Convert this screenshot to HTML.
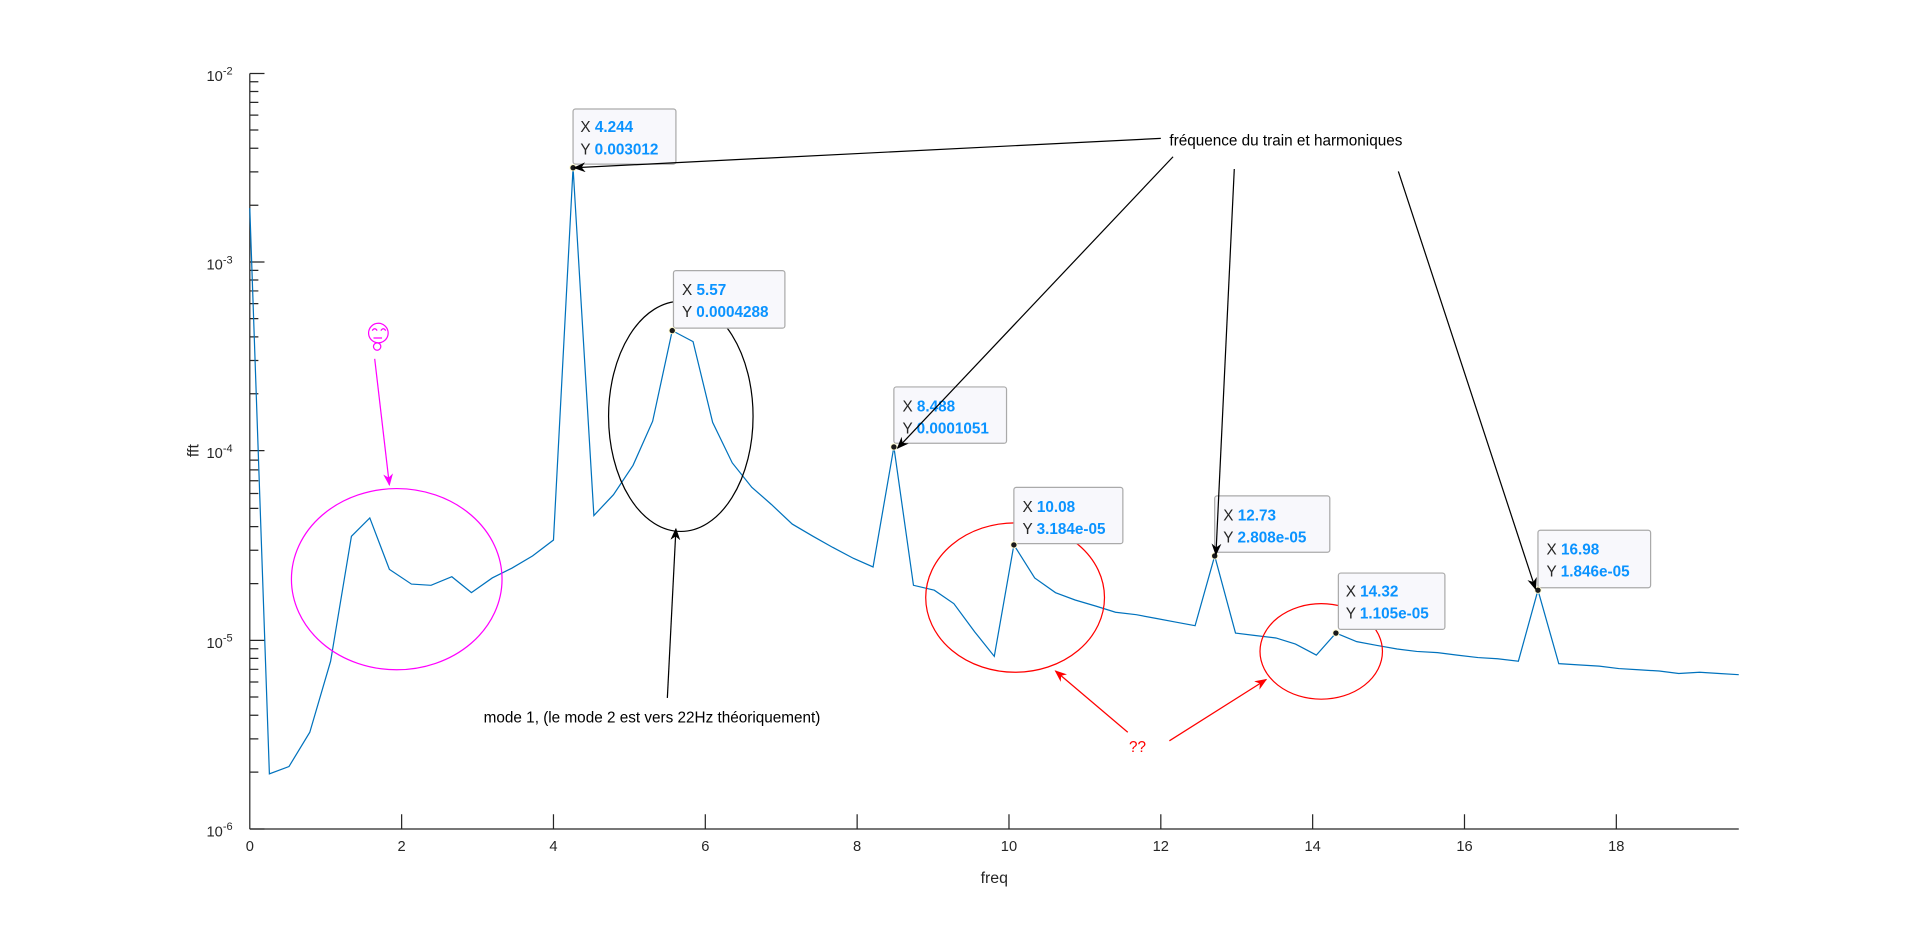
<!DOCTYPE html>
<html><head><meta charset="utf-8"><style>html,body{margin:0;padding:0;background:#fff;overflow:hidden}svg{display:block}text{font-family:"Liberation Sans",Arial,sans-serif}</style></head><body>
<svg width="1920" height="936" viewBox="0 0 1568 764.4" xmlns="http://www.w3.org/2000/svg">
<defs>
<marker id="ak" markerWidth="10" markerHeight="8" refX="9" refY="4" orient="auto" markerUnits="userSpaceOnUse"><path d="M0,0 L10,4 L0,8 L3,4z" fill="#000"/></marker>
<marker id="ar" markerWidth="10" markerHeight="8" refX="9" refY="4" orient="auto" markerUnits="userSpaceOnUse"><path d="M0,0 L10,4 L0,8 L3,4z" fill="#f00"/></marker>
<marker id="am" markerWidth="10" markerHeight="8" refX="9" refY="4" orient="auto" markerUnits="userSpaceOnUse"><path d="M0,0 L10,4 L0,8 L3,4z" fill="#f0f"/></marker>
</defs>
<g stroke="#262626" stroke-width="1" fill="none">
<line x1="204" y1="60" x2="204" y2="677"/>
<line x1="204" y1="677" x2="1420" y2="677"/>
<path d="M328,677v-12M452,677v-12M576,677v-12M700,677v-12M824,677v-12M948,677v-12M1072,677v-12M1196,677v-12M1320,677v-12"/>
<path d="M204,60h12M204,214h12M204,368h12M204,523h12M204,677h12"/>
<path d="M204,167.6h7M204,140.4h7M204,121.1h7M204,106.2h7M204,94h7M204,83.6h7M204,74.7h7M204,66.8h7
M204,321.6h7M204,294.4h7M204,275.1h7M204,260.2h7M204,248h7M204,237.6h7M204,228.7h7M204,220.8h7
M204,476.6h7M204,449.4h7M204,430.1h7M204,415.2h7M204,403h7M204,392.6h7M204,383.7h7M204,375.8h7
M204,630.6h7M204,603.4h7M204,584.1h7M204,569.2h7M204,557h7M204,546.6h7M204,537.7h7M204,529.8h7"/>
</g>
<g font-size="12" fill="#262626" text-anchor="middle">
<text x="204" y="695">0</text><text x="328" y="695">2</text><text x="452" y="695">4</text><text x="576" y="695">6</text><text x="700" y="695">8</text><text x="824" y="695">10</text><text x="948" y="695">12</text><text x="1072" y="695">14</text><text x="1196" y="695">16</text><text x="1320" y="695">18</text>
<text x="812" y="721" font-size="13">freq</text>
<text transform="translate(162,368) rotate(-90)" font-size="13">fft</text>
</g>
<g font-size="12" fill="#262626" text-anchor="end">
<text x="190" y="66">10<tspan dy="-5" font-size="9">-2</tspan></text>
<text x="190" y="220">10<tspan dy="-5" font-size="9">-3</tspan></text>
<text x="190" y="374">10<tspan dy="-5" font-size="9">-4</tspan></text>
<text x="190" y="529">10<tspan dy="-5" font-size="9">-5</tspan></text>
<text x="190" y="683">10<tspan dy="-5" font-size="9">-6</tspan></text>
</g>
<polyline fill="none" stroke="#0072bd" stroke-width="1" points="204,170 220,632 236,626 253,598 270,540 287,438 302,423 318,465 336,477 352,478 369,471 385,484 402,472 418,464 435,454 452,441 468,137 485,421 501,404 517,380 533,344 549,270 566,279 582,345 598,378 614,398 630,412 647,428 664,438 680,447 697,456 713,463 730,365 746,478 763,482 779,493 796,516 812,536 828,445 845,472 862,484 878,490 895,495 911,500 928,502 944,505 960,508 976,511 992,454 1009,517 1025,519 1042,521 1058,526 1075,535 1091,517 1108,524 1124,527 1141,530 1157,532 1174,533 1190,535 1207,537 1223,538 1240,540 1256,482 1273,542 1289,543 1306,544 1322,546 1338,547 1355,548 1371,550 1388,549 1404,550 1420,551"/>
<g fill="none" stroke-width="1">
<ellipse cx="324" cy="473" rx="86" ry="74" stroke="#f0f"/>
<ellipse cx="556" cy="340" rx="59" ry="94" stroke="#000"/>
<ellipse cx="829" cy="488" rx="73" ry="61" stroke="#f00"/>
<ellipse cx="1079" cy="532" rx="50" ry="39" stroke="#f00"/>
</g>
<g font-size="12.5">
<g><rect x="468" y="89" width="84" height="45" rx="2" fill="#f8f8fc" stroke="#aaa"/><text x="474" y="108" fill="#262626">X <tspan fill="#0a93ff" font-weight="bold">4.244</tspan></text><text x="474" y="126" fill="#262626">Y <tspan fill="#0a93ff" font-weight="bold">0.003012</tspan></text></g>
<g><rect x="550" y="221" width="91" height="47" rx="2" fill="#f8f8fc" stroke="#aaa"/><text x="557" y="241" fill="#262626">X <tspan fill="#0a93ff" font-weight="bold">5.57</tspan></text><text x="557" y="259" fill="#262626">Y <tspan fill="#0a93ff" font-weight="bold">0.0004288</tspan></text></g>
<g><rect x="730" y="316" width="92" height="46" rx="2" fill="#f8f8fc" stroke="#aaa"/><text x="737" y="336" fill="#262626">X <tspan fill="#0a93ff" font-weight="bold">8.488</tspan></text><text x="737" y="354" fill="#262626">Y <tspan fill="#0a93ff" font-weight="bold">0.0001051</tspan></text></g>
<g><rect x="828" y="398" width="89" height="46" rx="2" fill="#f8f8fc" stroke="#aaa"/><text x="835" y="418" fill="#262626">X <tspan fill="#0a93ff" font-weight="bold">10.08</tspan></text><text x="835" y="436" fill="#262626">Y <tspan fill="#0a93ff" font-weight="bold">3.184e-05</tspan></text></g>
<g><rect x="992" y="405" width="94" height="46" rx="2" fill="#f8f8fc" stroke="#aaa"/><text x="999" y="425" fill="#262626">X <tspan fill="#0a93ff" font-weight="bold">12.73</tspan></text><text x="999" y="443" fill="#262626">Y <tspan fill="#0a93ff" font-weight="bold">2.808e-05</tspan></text></g>
<g><rect x="1093" y="468" width="87" height="46" rx="2" fill="#f8f8fc" stroke="#aaa"/><text x="1099" y="487" fill="#262626">X <tspan fill="#0a93ff" font-weight="bold">14.32</tspan></text><text x="1099" y="505" fill="#262626">Y <tspan fill="#0a93ff" font-weight="bold">1.105e-05</tspan></text></g>
<g><rect x="1256" y="433" width="92" height="47" rx="2" fill="#f8f8fc" stroke="#aaa"/><text x="1263" y="453" fill="#262626">X <tspan fill="#0a93ff" font-weight="bold">16.98</tspan></text><text x="1263" y="471" fill="#262626">Y <tspan fill="#0a93ff" font-weight="bold">1.846e-05</tspan></text></g>
</g>
<g fill="#1a1a1a" stroke="#fffbd0" stroke-width="0.8">
<circle cx="468" cy="137" r="2.6"/><circle cx="549" cy="270" r="2.6"/><circle cx="730" cy="365" r="2.6"/><circle cx="828" cy="445" r="2.6"/><circle cx="992" cy="454" r="2.6"/><circle cx="1091" cy="517" r="2.6"/><circle cx="1256" cy="482" r="2.6"/>
</g>
<g stroke="#000" stroke-width="1" marker-end="url(#ak)">
<line x1="948" y1="113" x2="469" y2="137"/>
<line x1="958" y1="128" x2="733" y2="366"/>
<line x1="1008" y1="138" x2="993" y2="453"/>
<line x1="1142" y1="140" x2="1254" y2="481"/>
<line x1="545" y1="570" x2="552" y2="432"/>
</g>
<g stroke="#f00" stroke-width="1" marker-end="url(#ar)">
<line x1="921" y1="598" x2="862" y2="548"/>
<line x1="955" y1="605" x2="1034" y2="555"/>
</g>
<line x1="306" y1="293" x2="318" y2="396" stroke="#f0f" stroke-width="1" marker-end="url(#am)"/>
<g fill="none" stroke="#f0f" stroke-width="1"><circle cx="309" cy="272" r="8"/><circle cx="308" cy="283" r="3"/><path d="M304,270q2,-3 4,0M311,270q2,-3 4,0M305,276h7"/></g>
<text x="955" y="119" font-size="12.5" fill="#000">fréquence du train et harmoniques</text>
<text x="395" y="590" font-size="12.5" fill="#000">mode 1, (le mode 2 est vers 22Hz théoriquement)</text>
<text x="922" y="614" font-size="12.5" fill="#f00">??</text>
</svg>
</body></html>
